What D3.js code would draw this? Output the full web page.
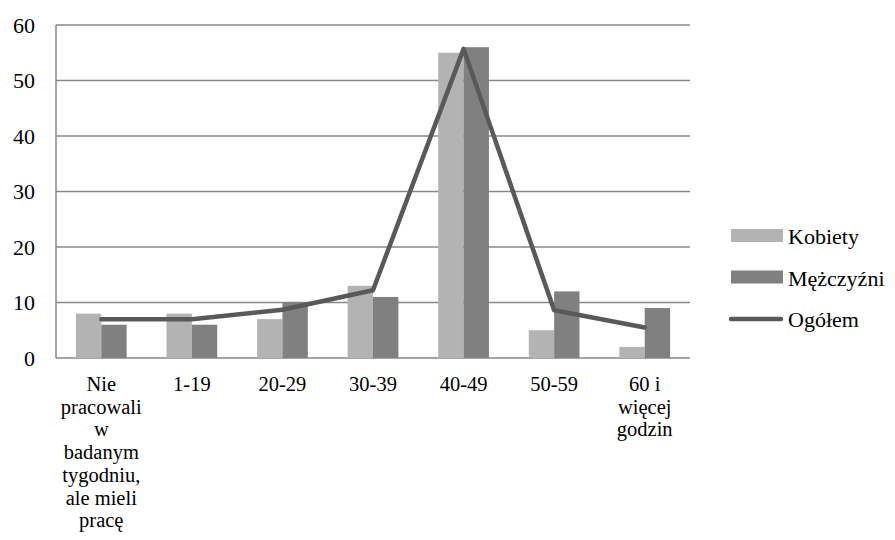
<!DOCTYPE html>
<html><head><meta charset="utf-8">
<script src="https://cdn.jsdelivr.net/npm/d3@7/dist/d3.min.js"></script>
<style>html,body{margin:0;padding:0;background:#fff;}svg{display:block;}</style>
</head><body>
<svg id="c" width="895" height="540"></svg>
<script>
const categories = [
  ["Nie","pracowali","w","badanym","tygodniu,","ale mieli","pracę"],
  ["1-19"],["20-29"],["30-39"],["40-49"],["50-59"],
  ["60 i","więcej","godzin"]
];
const kobiety    = [8, 8, 7, 13, 55, 5, 2];
const mezczyzni  = [6, 6, 10, 11, 56, 12, 9];
const ogolem     = [7, 7, 8.7, 12.2, 55.7, 8.6, 5.5];
const yTicks = [0, 10, 20, 30, 40, 50, 60];
const seriesNames = ["Kobiety", "Mężczyźni", "Ogółem"];

(function(){
const FONT = "'Liberation Serif', LiberationSerif, Tinos, 'Times New Roman', 'Noto Serif', 'DejaVu Serif', FreeSerif, serif";
const svg = d3.select("#c");
const pLeft = 56, pRight = 690, pTop = 25, pBottom = 358;
const idx = categories.map((d,i)=>i);
const x = d3.scaleBand().domain(idx).range([pLeft, pRight]).paddingInner(0.44).paddingOuter(0.22);
const step = x.step();
const xc = i => pLeft + step*(i+0.5);
const y = d3.scaleLinear().domain([0,60]).range([pBottom, pTop]);
const gridCol = "#888888";

svg.append("g").selectAll("line").data(yTicks).join("line")
  .attr("x1", pLeft).attr("x2", pRight)
  .attr("y1", d=>y(d)).attr("y2", d=>y(d))
  .attr("stroke", gridCol).attr("stroke-width", 1.5);
svg.append("line").attr("x1", pLeft).attr("x2", pLeft).attr("y1", pTop).attr("y2", pBottom)
  .attr("stroke", gridCol).attr("stroke-width", 1.5);

svg.append("g").selectAll("text").data(yTicks).join("text")
  .attr("x", 35).attr("y", d=>y(d)+7.5).attr("text-anchor","end")
  .style("font-family", FONT)
  .attr("font-size", 22).attr("fill","#000").text(d=>d);

const sub = d3.scaleBand().domain([0,1]).range([0, x.bandwidth()]);
const colors = ["#b3b3b3", "#808080"];
[kobiety, mezczyzni].forEach((vals, s) => {
  svg.append("g").selectAll("rect").data(vals).join("rect")
    .attr("x", (d,i)=>x(i)+sub(s)).attr("width", sub.bandwidth())
    .attr("y", d=>y(d)).attr("height", d=>y(0)-y(d))
    .attr("fill", colors[s]);
});

const line = d3.line().x((d,i)=>xc(i)).y(d=>y(d));
svg.append("path").datum(ogolem).attr("d", line)
  .attr("fill","none").attr("stroke","#595959").attr("stroke-width",4.5)
  .attr("stroke-linejoin","round").attr("stroke-linecap","round");

categories.forEach((lines, i) => {
  const t = svg.append("text").attr("text-anchor","middle").style("font-family", FONT)
    .attr("font-size",20.5).attr("fill","#000");
  lines.forEach((l, j) => {
    t.append("tspan").attr("x", xc(i)).attr("y", 391 + j*22.7).text(l);
  });
});

const lg = svg.append("g");
const lgY = [244, 285.5, 327];
[0,1].forEach(s => {
  lg.append("rect").attr("x",731).attr("y",lgY[s]-15).attr("width",52).attr("height",13).attr("fill",colors[s]);
});
lg.append("line").attr("x1",731).attr("x2",781).attr("y1",lgY[2]-8).attr("y2",lgY[2]-8)
  .attr("stroke","#595959").attr("stroke-width",4.5).attr("stroke-linecap","round");
seriesNames.forEach((n, s) => {
  lg.append("text").attr("x",788).attr("y",lgY[s]).style("font-family", FONT)
    .attr("font-size",22).attr("fill","#000").text(n);
});
})();
</script>
</body></html>
